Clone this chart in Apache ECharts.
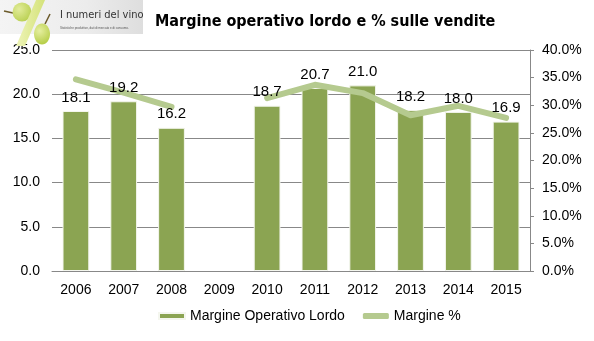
<!DOCTYPE html>
<html><head><meta charset="utf-8">
<script src="https://cdn.jsdelivr.net/npm/echarts@6/dist/echarts.min.js"></script>
<style>html,body{margin:0;padding:0;background:#fff}#c{width:594px;height:341px}</style>
</head><body><div id="c"></div>
<script>
const years = ['2006','2007','2008','2009','2010','2011','2012','2013','2014','2015'];
const mol = [18.1, 19.2, 16.2, '-', 18.7, 20.7, 21.0, 18.2, 18.0, 16.9];
const marginePct = [34.7, 32.3, 29.7, '-', 31.3, 33.7, 32.2, 28.2, 29.9, 27.7];
const leftTicks = [0, 5, 25];
const rightTicks = [0, 5, 40];
const titleText = 'Margine operativo lordo e % sulle vendite';
const seriesNames = ['Margine Operativo Lordo', 'Margine %'];

const chart = echarts.init(document.getElementById('c'), null, {renderer: 'canvas'});
const FONT = 'Liberation Sans';
chart.setOption({
  animation: false,
  backgroundColor: '#fff',
  title: {
    text: titleText, left: 150, top: 9,
    textStyle: {fontFamily: 'DejaVu Sans Condensed', fontWeight: 'bold', fontSize: 16, color: '#000'}
  },
  graphic: [
    {type: 'rect', shape: {x: 0, y: 0, width: 143, height: 34},
     style: {fill: new echarts.graphic.LinearGradient(0, 0, 1, 0, [{offset: 0, color: '#f4f4f4'}, {offset: 0.6, color: '#ececec'}, {offset: 1, color: '#dedede'}])}, z: 0},
    {type: 'line', shape: {x1: 4, y1: 11, x2: 13, y2: 13}, style: {stroke: '#6b5a2a', lineWidth: 1.5}, z: 1},
    {type: 'circle', shape: {cx: 22, cy: 12, r: 9.5}, style: {fill: new echarts.graphic.RadialGradient(0.35, 0.35, 0.8, [{offset: 0, color: '#e2ec9a'}, {offset: 1, color: '#b4cc48'}])}, z: 1},
    {type: 'polygon', shape: {points: [[16, 46], [25, 46], [45, 0], [36, 0]]},
     style: {fill: new echarts.graphic.LinearGradient(0, 0, 1, 0, [{offset: 0, color: '#eef4b8'}, {offset: 1, color: '#d4e27a'}])}, z: 2},
    {type: 'line', shape: {x1: 45, y1: 24, x2: 50, y2: 14}, style: {stroke: '#6b5a2a', lineWidth: 1.5}, z: 3},
    {type: 'ellipse', shape: {cx: 42, cy: 34, rx: 8, ry: 10.5}, style: {fill: new echarts.graphic.RadialGradient(0.35, 0.35, 0.8, [{offset: 0, color: '#e6efa0'}, {offset: 1, color: '#b8cf4c'}])}, z: 3},
    {type: 'text', left: 60, top: 10, style: {text: 'I numeri del vino', font: '11px "DejaVu Sans Condensed"', fill: '#333'}, z: 3},
    {type: 'text', left: 60, top: 27, style: {text: 'Statistiche produttive, dati di mercato e di consumo.', font: '3px "Liberation Sans"', fill: '#555'}, z: 3}
  ],
  grid: {left: 52, right: 64, top: 50, bottom: 70},
  legend: {
    bottom: 13, left: 153, itemGap: 18, itemWidth: 26, itemHeight: 6,
    textStyle: {fontFamily: FONT, fontSize: 14, color: '#000'},
    data: [{name: seriesNames[0], icon: 'rect'}, {name: seriesNames[1], icon: 'roundRect'}]
  },
  xAxis: {
    type: 'category', data: years,
    axisLine: {lineStyle: {color: '#888', width: 1}},
    axisTick: {show: false},
    axisLabel: {fontFamily: FONT, fontSize: 14, color: '#000', margin: 12}
  },
  yAxis: [
    {type: 'value', min: leftTicks[0], interval: leftTicks[1], max: leftTicks[2],
     axisLine: {show: false}, axisTick: {show: false},
     splitLine: {lineStyle: {color: '#888', width: 1}},
     axisLabel: {fontFamily: FONT, fontSize: 14, color: '#000', margin: 12, formatter: v => v.toFixed(1)}},
    {type: 'value', min: rightTicks[0], interval: rightTicks[1], max: rightTicks[2], position: 'right',
     axisLine: {show: true, lineStyle: {color: '#888'}}, axisTick: {show: true, length: 4, lineStyle: {color: '#888'}},
     splitLine: {show: false},
     axisLabel: {fontFamily: FONT, fontSize: 14, color: '#000', margin: 12, formatter: v => v.toFixed(1) + '%'}}
  ],
  series: [
    {name: seriesNames[0], type: 'bar', data: mol, yAxisIndex: 0, barWidth: '56%',
     itemStyle: {color: '#8ba452', borderColor: '#f4f6ee', borderWidth: 1},
     z: 2},
    {name: seriesNames[1], type: 'line', data: marginePct, yAxisIndex: 1, symbol: 'none', connectNulls: false,
     lineStyle: {color: '#b5ca8f', width: 6, cap: 'round', join: 'round'}, itemStyle: {color: '#b5ca8f'}, z: 3},
    {name: 'labels', type: 'bar', data: mol, yAxisIndex: 0, barWidth: '56%', barGap: '-100%',
     itemStyle: {color: 'rgba(0,0,0,0)'}, silent: true, z: 5,
     label: {show: true, position: 'top', distance: 6, fontFamily: FONT, fontSize: 15, color: '#000',
             formatter: p => Number(p.value).toFixed(1)}}
  ]
});
</script></body></html>
